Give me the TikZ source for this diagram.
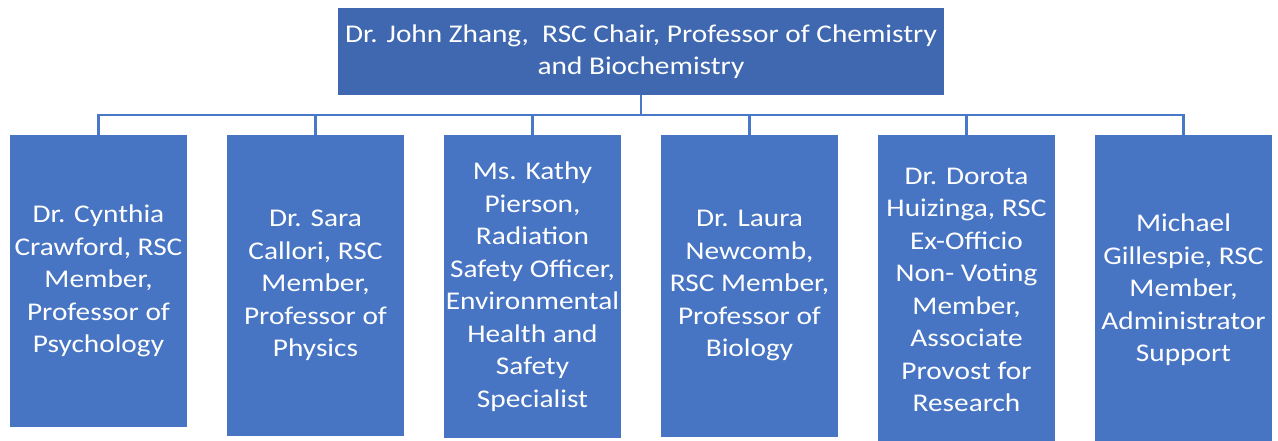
\documentclass[tikz,border=0pt]{standalone}
\usepackage{fontspec}
\setmainfont[FakeStretch=1.15]{Carlito}
\begin{document}
\begin{tikzpicture}[x=1pt,y=-1pt,
  topbox/.style={fill=chairblue, draw=none, minimum width=606pt, minimum height=87pt,
    text=white, align=center, inner sep=0pt, font=\fontsize{25.5}{32.5}\selectfont},
  memberbox/.style={fill=memberblue, draw=none, minimum width=177pt,
    text=white, align=center, inner sep=0pt, font=\fontsize{25.5}{32.5}\selectfont},
  link/.style={draw=linkblue, line width=2.6pt}]
\definecolor{chairblue}{HTML}{3F68B1}
\definecolor{memberblue}{HTML}{4775C4}
\definecolor{linkblue}{HTML}{4A78C8}
\useasboundingbox (0,0) rectangle (1278,441);
\fill[white] (0,0) rectangle (1278,441);

\node[topbox] (chair) at (641,51.5) {Dr. John Zhang,\ \ RSC Chair, Professor of Chemistry\\and Biochemistry};

\node[memberbox, minimum height=292pt] (m1) at (98.5,281) {Dr. Cynthia\\Crawford, RSC\\Member,\\Professor of\\Psychology};
\node[memberbox, minimum height=301pt] (m2) at (315.5,285.5) {Dr. Sara\\Callori, RSC\\Member,\\Professor of\\Physics};
\node[memberbox, minimum height=303pt] (m3) at (532.5,286.5) {Ms. Kathy\\Pierson,\\Radiation\\Safety Officer,\\Environmental\\Health and\\Safety\\Specialist};
\node[memberbox, minimum height=302pt] (m4) at (749.5,286) {Dr. Laura\\Newcomb,\\RSC Member,\\Professor of\\Biology};
\node[memberbox, minimum height=310pt] (m5) at (966.5,290) {Dr. Dorota\\Huizinga, RSC\\Ex-Officio\\Non- Voting\\Member,\\Associate\\Provost for\\Research};
\node[memberbox, minimum height=310pt] (m6) at (1183.5,290) {Michael\\Gillespie, RSC\\Member,\\Administrator\\Support};

% reporting lines from the chair to each member
\coordinate (bus) at (641,115);
\foreach \m in {m1,m2,m3,m4,m5,m6}
  \draw[link] (chair.south) -- (chair.south |- bus) -| (\m.north);
\end{tikzpicture}
\end{document}
